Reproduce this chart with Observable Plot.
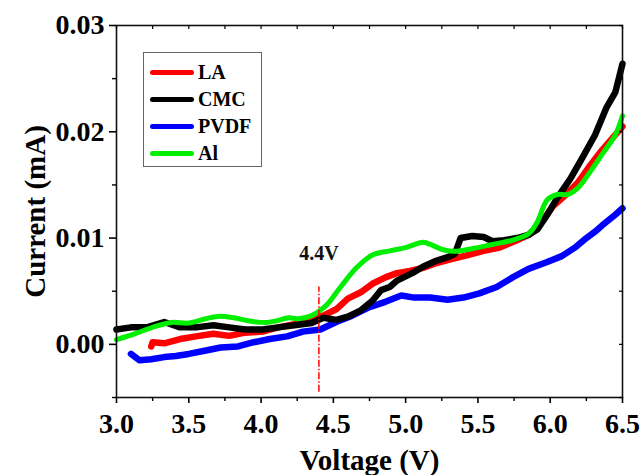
<!DOCTYPE html>
<html>
<head>
<meta charset="utf-8">
<script src="https://cdn.jsdelivr.net/npm/d3@7"></script>
<script src="https://cdn.jsdelivr.net/npm/@observablehq/plot@0.6"></script>
<style>
  body { margin: 0; background: #fff; }
  #wrap { position: relative; width: 643px; height: 475px; font-family: "Liberation Serif", "Times New Roman", serif; font-weight: bold; }
  #legend { position: absolute; left: 143px; top: 52px; width: 117px; height: 113px; border: 1px solid #666; box-sizing: content-box; }
  .row { position: absolute; left: 6px; height: 22px; display: flex; align-items: center; font-size: 20px; color: #000; }
  .sw { width: 44px; height: 5px; border-radius: 3px; margin-right: 4px; }
  svg g[aria-label="x-axis label"] text, svg g[aria-label="y-axis label"] text { font-size: 29px; }
</style>
</head>
<body>
<div id="wrap"></div>
<script>
// ---- data ----
const seriesNames = ["LA", "CMC", "PVDF", "Al"];
const seriesColors = ["#ff0000", "#000000", "#0000ff", "#00ee00"];

const laV = [3.24, 3.25, 3.33, 3.44, 3.55, 3.67, 3.78, 3.89, 4.01, 4.12, 4.23, 4.35, 4.43, 4.52, 4.60, 4.69, 4.77, 4.86, 4.94, 5.03, 5.12, 5.20, 5.31, 5.43, 5.54, 5.65, 5.77, 5.85, 5.94, 6.02, 6.11, 6.19, 6.28, 6.36, 6.45, 6.50];
const laI = [-0.0002, 0.0002, 0.0001, 0.0005, 0.00075, 0.0010, 0.0008, 0.0011, 0.0012, 0.0016, 0.0019, 0.0023, 0.0027, 0.0033, 0.0043, 0.0049, 0.0057, 0.0063, 0.0067, 0.0069, 0.0072, 0.0076, 0.0080, 0.0084, 0.0088, 0.0091, 0.0098, 0.0103, 0.0115, 0.0130, 0.0141, 0.0152, 0.0169, 0.0183, 0.0197, 0.0205];

const cmcV = [3.00, 3.10, 3.21, 3.33, 3.44, 3.55, 3.67, 3.78, 3.89, 4.01, 4.12, 4.23, 4.35, 4.43, 4.52, 4.60, 4.69, 4.77, 4.83, 4.89, 4.94, 5.00, 5.06, 5.12, 5.20, 5.29, 5.34, 5.38, 5.46, 5.54, 5.60, 5.68, 5.77, 5.85, 5.91, 5.98, 6.05, 6.14, 6.22, 6.31, 6.39, 6.45, 6.50];
const cmcI = [0.0014, 0.0016, 0.0016, 0.0021, 0.0016, 0.0016, 0.0018, 0.0016, 0.0014, 0.0014, 0.0016, 0.0018, 0.0020, 0.0025, 0.0023, 0.0026, 0.0032, 0.0041, 0.0051, 0.0054, 0.0060, 0.0064, 0.0068, 0.0073, 0.0078, 0.0082, 0.0085, 0.0100, 0.0102, 0.0101, 0.0097, 0.0098, 0.0100, 0.0103, 0.0108, 0.0122, 0.0138, 0.0156, 0.0175, 0.0197, 0.0223, 0.0237, 0.0264];

const pvdfV = [3.10, 3.16, 3.24, 3.33, 3.41, 3.50, 3.61, 3.72, 3.84, 3.95, 4.06, 4.18, 4.29, 4.41, 4.52, 4.63, 4.75, 4.86, 4.97, 5.06, 5.17, 5.29, 5.40, 5.51, 5.63, 5.74, 5.85, 5.97, 6.08, 6.17, 6.25, 6.31, 6.36, 6.45, 6.50];
const pvdfI = [-0.0009, -0.0015, -0.0014, -0.0012, -0.0011, -0.0009, -0.0006, -0.0003, -0.0002, 0.0002, 0.0005, 0.00075, 0.0012, 0.0014, 0.0021, 0.0027, 0.0035, 0.0040, 0.0046, 0.0044, 0.0044, 0.0042, 0.0044, 0.0048, 0.0054, 0.0063, 0.0071, 0.0077, 0.0083, 0.0091, 0.0100, 0.0106, 0.0112, 0.0122, 0.0128];

const alV = [3.00, 3.13, 3.24, 3.38, 3.50, 3.61, 3.70, 3.81, 3.92, 4.04, 4.12, 4.19, 4.26, 4.35, 4.41, 4.46, 4.55, 4.66, 4.77, 4.89, 5.00, 5.12, 5.17, 5.26, 5.34, 5.46, 5.60, 5.74, 5.85, 5.91, 5.98, 6.05, 6.12, 6.19, 6.28, 6.36, 6.45, 6.50];
const alI = [0.00044, 0.0010, 0.00156, 0.00206, 0.0020, 0.00238, 0.00263, 0.0025, 0.00219, 0.00206, 0.00225, 0.0025, 0.0024, 0.0027, 0.0032, 0.0038, 0.0054, 0.0072, 0.0084, 0.0088, 0.0091, 0.0096, 0.0094, 0.0089, 0.00875, 0.0090, 0.0094, 0.0098, 0.0104, 0.0115, 0.0136, 0.0141, 0.0141, 0.0147, 0.0163, 0.0179, 0.0197, 0.0215];

const xMajor = [3.0, 3.5, 4.0, 4.5, 5.0, 5.5, 6.0, 6.5];
const xMinor = [3.25, 3.75, 4.25, 4.75, 5.25, 5.75, 6.25];
const yMajor = [0.00, 0.01, 0.02, 0.03];
const yMinor = [-0.005, 0.005, 0.015, 0.025];

const markerV = [4.4];
const markerLow = -0.0045, markerHigh = 0.0054;
const markerLabel = ["4.4V"];
const markerLabelI = 0.0079;

// ---- build tables ----
const mk = (vs, is, name) => vs.map((v, k) => ({v, i: is[k], name}));
const la = mk(laV, laI, "LA");
const cmc = mk(cmcV, cmcI, "CMC");
const pvdf = mk(pvdfV, pvdfI, "PVDF");
const al = mk(alV, alI, "Al");

const font = "Liberation Serif, Times New Roman, serif";

const chart = Plot.plot({
  width: 643,
  height: 475,
  marginLeft: 116,
  marginRight: 21,
  marginTop: 25,
  marginBottom: 78,
  style: {fontFamily: font, fontWeight: "bold", color: "#000", background: "#fff", overflow: "visible"},
  x: {domain: [3.0, 6.5]},
  y: {domain: [-0.005, 0.03]},
  marks: [
    Plot.line(pvdf, {x: "v", y: "i", stroke: seriesColors[2], strokeWidth: 6.5, strokeLinejoin: "round"}),
    Plot.line(la, {x: "v", y: "i", stroke: seriesColors[0], strokeWidth: 6.5, strokeLinejoin: "round"}),
    Plot.line(cmc, {x: "v", y: "i", stroke: seriesColors[1], strokeWidth: 6.5, strokeLinejoin: "round"}),
    Plot.line(al, {x: "v", y: "i", stroke: seriesColors[3], strokeWidth: 5, curve: "catmull-rom"}),
    Plot.ruleX(markerV, {y1: markerLow, y2: markerHigh, stroke: "#ff0000", strokeWidth: 1.5, strokeDasharray: "7,2,1.5,2"}),
    Plot.text(markerLabel, {x: markerV[0], y: markerLabelI, text: d => d, fontSize: 20, fontWeight: "bold", lineAnchor: "bottom", fill: "#111"}),
    Plot.frame({stroke: "#111", strokeWidth: 1.6}),
    Plot.axisX({ticks: xMajor, tickSize: 6, tickPadding: 10, tickFormat: d => d.toFixed(1), fontSize: 28, label: "Voltage (V)", labelAnchor: "center", labelOffset: 72, labelArrow: false, strokeWidth: 1.6}),
    Plot.axisX({ticks: xMinor, tickSize: 4, tickFormat: () => "", label: null, strokeWidth: 1.4}),
    Plot.axisX({anchor: "top", ticks: xMajor.concat(xMinor), tickSize: -3, tickFormat: () => "", label: null, strokeWidth: 1.2}),
    Plot.axisY({ticks: yMajor, tickSize: 7, tickPadding: 5, tickFormat: d => d.toFixed(2), fontSize: 28, label: "Current (mA)", labelAnchor: "center", labelOffset: 92, labelArrow: false, strokeWidth: 1.6}),
    Plot.axisY({ticks: yMinor, tickSize: 4, tickFormat: () => "", label: null, strokeWidth: 1.4}),
    Plot.axisY({anchor: "right", ticks: yMajor.concat(yMinor), tickSize: -4, tickFormat: () => "", label: null, strokeWidth: 1.2})
  ]
});

const wrap = document.getElementById("wrap");
wrap.appendChild(chart);

// legend inside the plot area
const legend = document.createElement("div");
legend.id = "legend";
const rowTops = [8, 35, 62, 89];
seriesNames.forEach((n, k) => {
  const row = document.createElement("div");
  row.className = "row";
  row.style.top = rowTops[k] + "px";
  const sw = document.createElement("div");
  sw.className = "sw";
  sw.style.background = seriesColors[k];
  const t = document.createElement("span");
  t.textContent = n;
  row.appendChild(sw);
  row.appendChild(t);
  legend.appendChild(row);
});
wrap.appendChild(legend);
</script>
</body>
</html>
